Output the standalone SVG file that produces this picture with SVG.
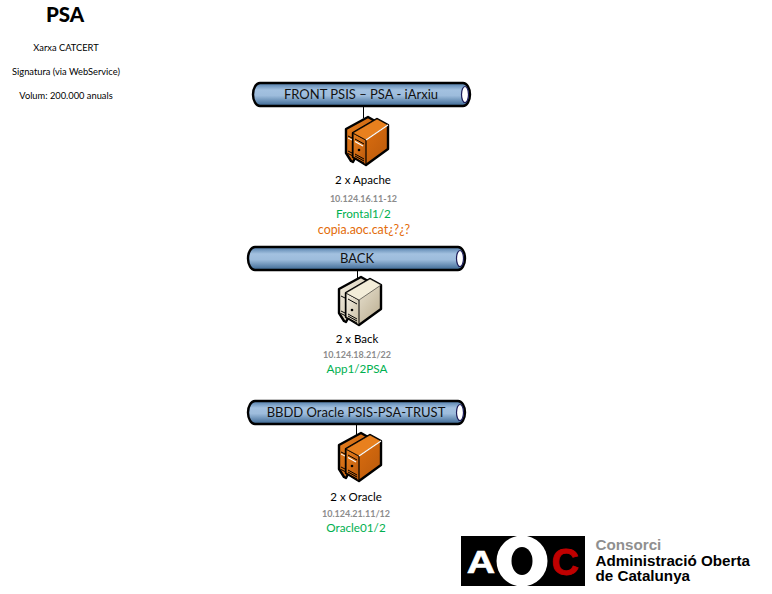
<svg xmlns="http://www.w3.org/2000/svg" xmlns:xlink="http://www.w3.org/1999/xlink" width="772" height="594" viewBox="0 0 772 594">
<style>
text{font-family:"Lato","Open Sans","Liberation Sans",sans-serif;text-anchor:middle;fill:#000}
.ttl{font-size:20.500px;font-weight:900}
.small{font-size:9.300px}
.pipelabel{font-size:13px;fill:#111}
.name{font-size:11.500px}
.ip{font-size:9px;font-weight:700;fill:#8c8c8c}
.green{font-size:11.700px;fill:#00b050}
.orange{font-size:12.400px;fill:#e36c0a}
.pipe{fill:url(#pipeG);stroke:#000;stroke-width:2.400}
.cap{fill:#fff;stroke:#1d1d5a;stroke-width:1.200}
.link{stroke:#000;stroke-width:1;fill:none}
.e{stroke:#000;stroke-width:2.400;stroke-linejoin:round}
.thin{stroke:#000;stroke-width:1;fill:none}
.lg{font-family:"Liberation Sans",Arial,sans-serif;text-anchor:start;font-weight:700;font-size:15.200px}
.lm{font-family:"Liberation Sans",Arial,sans-serif;font-weight:700}
</style>
<defs>
<linearGradient id="pipeG" x1="0" y1="0" x2="0" y2="1">
<stop offset="0" stop-color="#4f7ba8"/><stop offset=".3" stop-color="#a3c1e0"/><stop offset=".55" stop-color="#9dbcdc"/><stop offset="1" stop-color="#3a6692"/>
</linearGradient>
<linearGradient id="oF" x1="0" y1="0" x2="1" y2="1"><stop offset="0" stop-color="#e8801e"/><stop offset="1" stop-color="#b9560a"/></linearGradient>
<linearGradient id="oS" x1="0" y1="0" x2="1" y2="1"><stop offset="0" stop-color="#e87510"/><stop offset="1" stop-color="#b8590c"/></linearGradient>
<linearGradient id="cF" x1="0" y1="0" x2="1" y2="1"><stop offset="0" stop-color="#f4efe2"/><stop offset="1" stop-color="#c8bda2"/></linearGradient>
<linearGradient id="cS" x1="0" y1="0" x2="1" y2="1"><stop offset="0" stop-color="#f7f3e6"/><stop offset="1" stop-color="#b8aa8c"/></linearGradient>
<g id="srvO">
<path class="e" d="M1 12L23 0L30 4L8 45L6 44L1 36Z" fill="url(#oF)"/>
<path class="e" d="M8 16L32 2L43 8V32L21 48L8 40Z" fill="url(#oS)"/>
<path d="M8 16L21 23V48L8 40Z" fill="url(#oF)" stroke="#000" stroke-width="1.200"/>
<path d="M8 16L32 2L43 8L21 23Z" fill="#e8801e" stroke="#000" stroke-width=".6"/>
<path d="M21 23L43 8" stroke="#fff" stroke-width="1.200"/>
<path class="thin" d="M10 22L19 27M10 37L19 42M10 39L19 44M10 41L19 46"/>
<path d="M10 24.500L18 29" stroke="#fff" stroke-width="1.200"/>
<circle cx="14" cy="33" r="1.300" fill="#000"/>
<path class="thin" d="M3 19L7 21M3 34L7 36M3 36.500L7 38.500"/>
<path d="M3 21L7 23" stroke="#fff" stroke-width="1"/>
</g>
<g id="srvC">
<path class="e" d="M1 12L23 0L30 4L8 45L6 44L1 36Z" fill="url(#cF)"/>
<path class="e" d="M8 16L32 2L43 8V32L21 48L8 40Z" fill="url(#cS)"/>
<path d="M8 16L21 23V48L8 40Z" fill="url(#cF)" stroke="#000" stroke-width="1"/>
<path d="M8 16L32 2L43 8L21 23Z" fill="#f3edd9" stroke="#000" stroke-width=".5"/>
<path class="thin" d="M10 22L19 27M10 37L19 42M10 39L19 44M10 41L19 46"/>
<circle cx="14" cy="33" r="1.300" fill="#000"/>
<path class="thin" d="M3 19L7 21M3 34L7 36M3 36.500L7 38.500"/>
</g>
</defs>
<rect width="772" height="594" fill="#fff"/>
<g id="title">
<text class="ttl" x="65" y="22">PSA</text>
<text class="small" x="66" y="51">Xarxa CATCERT</text>
<text class="small" x="66" y="75">Signatura (via WebService)</text>
<text class="small" x="66" y="99">Volum: 200.000 anuals</text>
</g>
<g id="connectors">
<path class="link" d="M363.500 106V118M357.500 270V282M356.500 424V436"/>
</g>
<g id="pipe-front">
<rect class="pipe" x="253" y="83" width="217" height="23" rx="7" ry="11.500"/>
<ellipse class="cap" cx="465" cy="94.500" rx="3.500" ry="8"/>
<text class="pipelabel" x="361" y="99">FRONT PSIS – PSA - iArxiu</text>
</g>
<g id="server-apache">
<use xlink:href="#srvO" href="#srvO" x="345" y="117"/>
<text class="name" x="363" y="184">2 x Apache</text>
<text class="ip" x="363.500" y="202">10.124.16.11-12</text>
<text class="green" x="363.500" y="218">Frontal1/2</text>
<text class="orange" x="364" y="234">copia.aoc.cat¿?¿?</text>
</g>
<g id="pipe-back">
<rect class="pipe" x="248" y="247" width="217" height="23" rx="7" ry="11.500"/>
<ellipse class="cap" cx="460" cy="258.500" rx="3.500" ry="8"/>
<text class="pipelabel" x="357" y="263">BACK</text>
</g>
<g id="server-back">
<use xlink:href="#srvC" href="#srvC" x="338" y="277"/>
<text class="name" x="357" y="343">2 x Back</text>
<text class="ip" x="357" y="358">10.124.18.21/22</text>
<text class="green" x="357" y="373">App1/2PSA</text>
</g>
<g id="pipe-oracle">
<rect class="pipe" x="248" y="401" width="217" height="23" rx="7" ry="11.500"/>
<ellipse class="cap" cx="460" cy="412.500" rx="3.500" ry="8"/>
<text class="pipelabel" x="356" y="417">BBDD Oracle PSIS-PSA-TRUST</text>
</g>
<g id="server-oracle">
<use xlink:href="#srvO" href="#srvO" x="338" y="433"/>
<text class="name" x="356" y="501">2 x Oracle</text>
<text class="ip" x="356" y="517">10.124.21.11/12</text>
<text class="green" x="356" y="532">Oracle01/2</text>
</g>
<g id="logo">
<rect x="461" y="536" width="124" height="50" fill="#000"/>
<ellipse cx="522" cy="561" rx="25.500" ry="25.500" fill="#fff"/>
<ellipse cx="522" cy="561" rx="10.500" ry="14" fill="#000"/>
<text class="lm" transform="translate(481 573) scale(1.230 1)" style="font-size:32px;fill:#fff;stroke:#fff;stroke-width:.6">A</text>
<text class="lm" transform="translate(565 574.500) scale(1.020 1)" style="font-size:37px;fill:#c00000;stroke:#c00000;stroke-width:.8">C</text>
<text class="lg" x="595.500" y="550" style="fill:#8f8f8f">Consorci</text>
<text class="lg" x="595.500" y="565.500">Administració Oberta</text>
<text class="lg" x="595.500" y="581">de Catalunya</text>
</g>
</svg>
